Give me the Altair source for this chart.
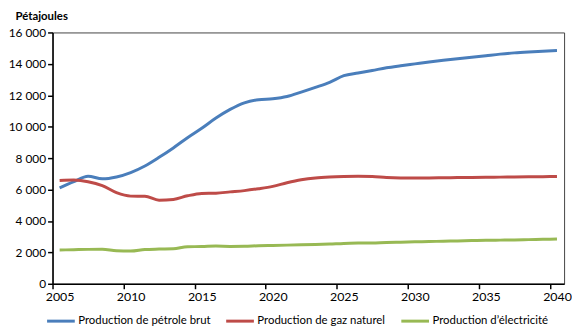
import altair as alt
import pandas as pd

years = list(range(2005, 2041))
series_names = ["Production de pétrole brut", "Production de gaz naturel", "Production d’électricité"]
colors = ["#4A7EBB", "#BE4B48", "#98B954"]

oil = [6100, 6500, 6850, 6680, 6800, 7080, 7500, 8050, 8650, 9300,
       9900, 10550, 11100, 11520, 11720, 11780, 11920, 12200, 12500, 12820,
       13250, 13420, 13580, 13750, 13880, 14000, 14120, 14230, 14330, 14420,
       14520, 14620, 14700, 14760, 14810, 14850]
gas = [6570, 6600, 6500, 6250, 5800, 5580, 5570, 5320, 5370, 5600,
       5750, 5770, 5850, 5930, 6050, 6200, 6430, 6620, 6740, 6800,
       6830, 6840, 6830, 6760, 6740, 6740, 6740, 6750, 6760, 6770,
       6780, 6790, 6800, 6810, 6820, 6830]
elec = [2150, 2170, 2190, 2200, 2100, 2080, 2180, 2210, 2230, 2360,
        2370, 2400, 2380, 2390, 2420, 2440, 2460, 2480, 2500, 2530,
        2570, 2590, 2600, 2630, 2650, 2670, 2690, 2710, 2730, 2750,
        2770, 2780, 2790, 2810, 2830, 2850]

x_ticks = [2005, 2010, 2015, 2020, 2025, 2030, 2035, 2040]
y_ticks = [0, 2000, 4000, 6000, 8000, 10000, 12000, 14000, 16000]

rows = []
for name, vals in zip(series_names, [oil, gas, elec]):
    for yr, v in zip(years, vals):
        rows.append({"year": yr, "value": v, "serie": name})
df = pd.DataFrame(rows)

W, H = 517, 254
half = W / 36 / 2
FONT = "Lato"

chart = alt.Chart(df).mark_line(strokeWidth=3, interpolate="monotone").encode(
    x=alt.X("year:Q",
            scale=alt.Scale(domain=[2004.5, 2040.5], nice=False, zero=False),
            axis=alt.Axis(values=x_ticks, format="d", title=None, grid=False,
                          tickOffset=-half, labelOffset=half,
                          labelFontSize=12.5, labelPadding=2, tickSize=5,
                          domainColor="black", domainWidth=1.5,
                          tickColor="black", tickWidth=1.5,
                          labelColor="black", labelFont=FONT,
                          labelFlush=False)),
    y=alt.Y("value:Q",
            scale=alt.Scale(domain=[0, 16000], nice=False),
            axis=alt.Axis(values=y_ticks, grid=False, title="Pétajoules",
                          titleAngle=0, titleX=-38, titleY=-16,
                          titleAlign="left", titleBaseline="middle",
                          titleFont=FONT, titleFontSize=11.5, titleFontWeight="bold",
                          titleColor="black",
                          labelExpr="replace(format(datum.value, ','), ',', ' ')",
                          labelFontSize=12, labelPadding=2, tickSize=5,
                          domainColor="black", domainWidth=1.5,
                          tickColor="black", tickWidth=1.5,
                          labelColor="black", labelFont=FONT)),
    color=alt.Color("serie:N",
                    scale=alt.Scale(domain=series_names, range=colors),
                    legend=alt.Legend(title=None, orient="none", direction="horizontal",
                                      legendX=-7, legendY=276,
                                      symbolType="stroke", symbolSize=784,
                                      symbolStrokeWidth=3, labelOffset=2,
                                      columnPadding=9, labelFontSize=11.5,
                                      labelFont=FONT, labelColor="black")),
).properties(
    width=W, height=H,
    autosize=alt.AutoSizeParams(type="none"),
    padding={"left": 45, "top": 23, "right": 8, "bottom": 45},
).configure_view(stroke="#444444", strokeWidth=1)

chart.save("out.html", embed_options={"renderer": "svg", "actions": False})
